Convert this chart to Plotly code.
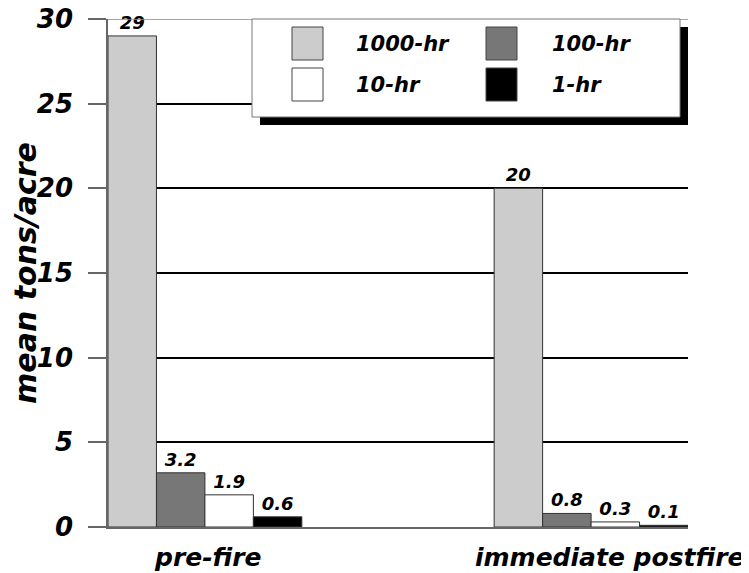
import plotly.graph_objects as go

# data
periods = ["pre-fire", "immediate postfire"]
fuel_classes = ["1000-hr", "100-hr", "10-hr", "1-hr"]
fuel_colors = ["#cccccc", "#777777", "#ffffff", "#000000"]
tons_1000hr = [29, 20]
tons_100hr = [3.2, 0.8]
tons_10hr = [1.9, 0.3]
tons_1hr = [0.6, 0.1]
y_ticks = [0, 5, 10, 15, 20, 25, 30]

series = [tons_1000hr, tons_100hr, tons_10hr, tons_1hr]

# the page body adds an 8px margin, so the figure is drawn 8px in from the window edge
OFF = 8
W, H = 749 - OFF, 573 - OFF
# plot area as seen in the window
L, R, T, B = 108, 688, 19, 527


def px_x(p):
    return (p - L) / (R - L)


def px_y(p):
    return (B - p) / (B - T)


FONT = "DejaVu Sans"
bold_it = dict(family=FONT, color="black", weight="bold", style="italic")

fig = go.Figure()
x_pos = list(range(len(periods)))
for name, vals, col in zip(fuel_classes, series, fuel_colors):
    fig.add_trace(
        go.Bar(
            x=x_pos,
            y=vals,
            name=name,
            marker=dict(color=col, line=dict(color="#333333", width=1)),
            text=[f"{v:g}" for v in vals],
            textposition="outside",
            textfont=dict(size=18, **bold_it),
            cliponaxis=False,
            showlegend=False,
        )
    )

fig.update_layout(
    width=W,
    height=H,
    margin=dict(l=L - OFF, r=W - (R - OFF), t=T - OFF, b=H - (B - OFF),
                pad=0, autoexpand=False),
    plot_bgcolor="white",
    paper_bgcolor="white",
    barmode="group",
    bargap=0.498,
    bargroupgap=0,
)

fig.update_xaxes(
    range=[-0.251, 1.251],
    automargin=False,
    showticklabels=False,
    ticks="",
    showgrid=False,
    zeroline=False,
    showline=True,
    linecolor="#666666",
    linewidth=1.5,
)

fig.update_yaxes(
    range=[0, 30],
    automargin=False,
    tickvals=y_ticks,
    ticks="outside",
    ticklen=18,
    tickcolor="#666666",
    tickwidth=1.5,
    ticklabelstandoff=10,
    ticklabeloverflow="allow",
    tickfont=dict(size=26, **bold_it),
    showgrid=True,
    gridcolor="black",
    gridwidth=2,
    zeroline=False,
    showline=True,
    linecolor="#666666",
    linewidth=1.5,
    title=dict(text="mean tons/acre", font=dict(size=30, **bold_it), standoff=8),
)

# top border line at 30 (lighter than the grid)
fig.add_shape(
    type="line", xref="paper", yref="y", x0=0, x1=1, y0=30, y1=30,
    line=dict(color="#888888", width=1.5), layer="above",
)

# category labels
label_shift = [3, 18]
for i, (p, dx) in enumerate(zip(periods, label_shift)):
    fig.add_annotation(
        x=i, xref="x", y=0, yref="paper", yanchor="top", yshift=-14,
        xshift=dx, text=p, showarrow=False, font=dict(size=25, **bold_it),
    )

# legend box with drop shadow
box_l, box_r, box_t, box_b, shadow = 252, 680, 19, 117, 8
fig.add_shape(
    type="rect", xref="paper", yref="paper",
    x0=px_x(box_l + shadow), x1=px_x(box_r + shadow),
    y0=px_y(box_b + shadow), y1=px_y(box_t + shadow),
    fillcolor="black", line=dict(width=0), layer="above",
)
fig.add_shape(
    type="rect", xref="paper", yref="paper",
    x0=px_x(box_l), x1=px_x(box_r), y0=px_y(box_b), y1=px_y(box_t),
    fillcolor="white", line=dict(color="#777777", width=1), layer="above",
)

swatch_cols = [292, 486]
text_cols = [354, 550]
swatch_rows = [27, 68]
sw, sh = 31, 33
for k, (name, col) in enumerate(zip(fuel_classes, fuel_colors)):
    r, c = divmod(k, 2)
    x0, y0 = swatch_cols[c], swatch_rows[r]
    fig.add_shape(
        type="rect", xref="paper", yref="paper",
        x0=px_x(x0), x1=px_x(x0 + sw), y0=px_y(y0 + sh), y1=px_y(y0),
        fillcolor=col, line=dict(color="#444444", width=1), layer="above",
    )
    fig.add_annotation(
        x=px_x(text_cols[c]), xref="paper", xanchor="left",
        y=px_y(y0 + sh / 2), yref="paper", yanchor="middle",
        text=name, showarrow=False, font=dict(size=21, **bold_it),
    )

fig.write_html("out.html")
